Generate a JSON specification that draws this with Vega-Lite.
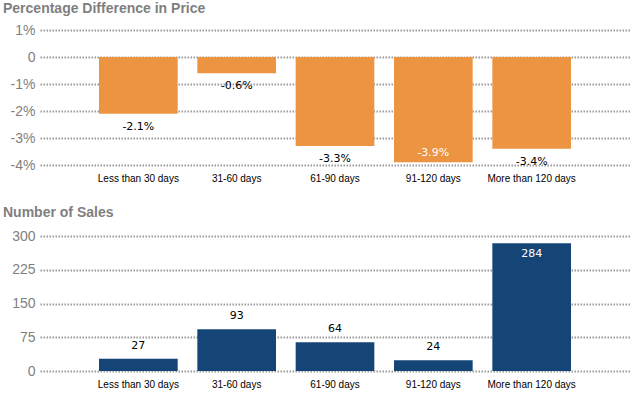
{
  "$schema": "https://vega.github.io/schema/vega-lite/v6.json",
  "padding": {"left": 3, "top": 2, "right": 3, "bottom": 2},
  "spacing": 23,
  "config": {
    "view": {"stroke": null},
    "font": "Liberation Sans",
    "title": {"anchor": "start", "frame": "bounds", "fontSize": 14, "fontWeight": "bold", "color": "#7f7f7f", "offset": 7},
    "axisY": {"grid": true, "gridColor": "#9a9a9a", "gridDash": [1.5, 1.5], "gridWidth": 2, "domain": false, "ticks": false, "labelFontSize": 14, "labelColor": "#7f7f7f", "labelPadding": 5, "minExtent": 37, "title": null},
    "axisX": {"domain": false, "ticks": false, "labelFontSize": 10, "labelColor": "#000000", "labelPadding": 8, "title": null, "labelAngle": 0}
  },
  "datasets": {
    "d": [
      {"bucket": "Less than 30 days", "pct": -2.1, "sales": 27},
      {"bucket": "31-60 days", "pct": -0.6, "sales": 93},
      {"bucket": "61-90 days", "pct": -3.3, "sales": 64},
      {"bucket": "91-120 days", "pct": -3.9, "sales": 24},
      {"bucket": "More than 120 days", "pct": -3.4, "sales": 284}
    ]
  },
  "vconcat": [
    {
      "title": "Percentage Difference in Price",
      "width": 590,
      "height": 135,
      "data": {"name": "d"},
      "transform": [{"calculate": "replace(format(datum.pct, '.1f'), '\u2212', '-') + '%'", "as": "label"}],
      "encoding": {
        "x": {"field": "bucket", "type": "nominal", "sort": null, "scale": {"paddingInner": 0.2, "paddingOuter": 0.6}},
        "y": {"field": "pct", "type": "quantitative", "scale": {"domain": [-4, 1], "nice": false}, "axis": {"values": [1, 0, -1, -2, -3, -4], "labelExpr": "datum.value == 0 ? '0' : datum.value + '%'"}}
      },
      "layer": [
        {"mark": {"type": "bar", "color": "#ED9442"}},
        {"mark": {"type": "text", "baseline": "top", "dy": 7, "fontSize": 11, "font": "DejaVu Sans"},
         "transform": [{"filter": "datum.pct > -3.6"}],
         "encoding": {"text": {"field": "label"}, "color": {"value": "#000000"}}},
        {"mark": {"type": "text", "baseline": "bottom", "dy": -4, "fontSize": 11, "font": "DejaVu Sans"},
         "transform": [{"filter": "datum.pct <= -3.6"}],
         "encoding": {"text": {"field": "label"}, "color": {"value": "#ffffff"}}}
      ]
    },
    {
      "title": {"text": "Number of Sales", "offset": 9},
      "width": 590,
      "height": 135,
      "data": {"name": "d"},
      "encoding": {
        "x": {"field": "bucket", "type": "nominal", "sort": null, "scale": {"paddingInner": 0.2, "paddingOuter": 0.6}},
        "y": {"field": "sales", "type": "quantitative", "scale": {"domain": [0, 300], "nice": false}, "axis": {"values": [0, 75, 150, 225, 300]}}
      },
      "layer": [
        {"mark": {"type": "bar", "color": "#154577"}},
        {"mark": {"type": "text", "baseline": "bottom", "dy": -8, "fontSize": 11, "font": "DejaVu Sans"},
         "transform": [{"filter": "datum.sales < 250"}],
         "encoding": {"text": {"field": "sales", "type": "quantitative"}, "color": {"value": "#000000"}}},
        {"mark": {"type": "text", "baseline": "top", "dy": 5, "fontSize": 11, "font": "DejaVu Sans"},
         "transform": [{"filter": "datum.sales >= 250"}],
         "encoding": {"text": {"field": "sales", "type": "quantitative"}, "color": {"value": "#ffffff"}}}
      ]
    }
  ]
}
